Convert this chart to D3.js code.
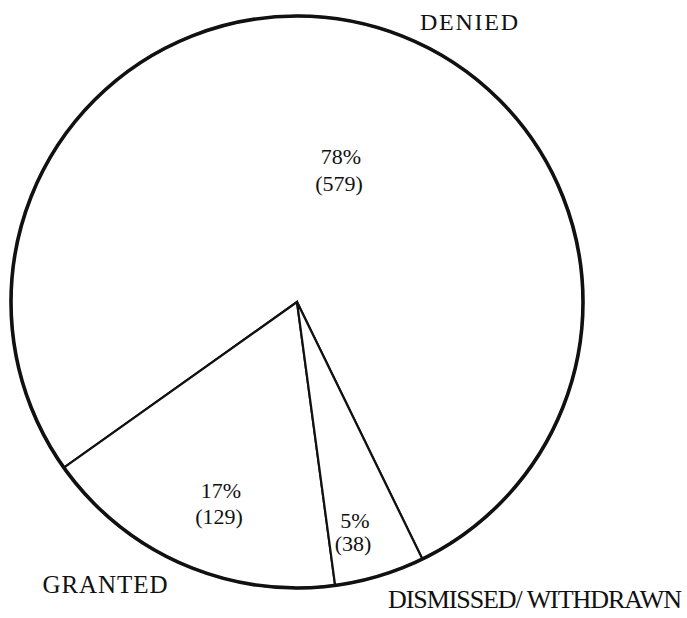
<!DOCTYPE html>
<html>
<head>
<meta charset="utf-8">
<script src="https://cdn.jsdelivr.net/npm/d3@7"></script>
<style>
  body { margin: 0; background: #fff; }
  text { font-family: "Liberation Serif", "DejaVu Serif", serif; fill: #111; }
</style>
</head>
<body>
<div id="chart"></div>
<script>
// data
var categories = ["DENIED", "GRANTED", "DISMISSED/ WITHDRAWN"];
var counts = [579, 129, 38];
var percents = ["78%", "17%", "5%"];

var width = 687, height = 618;
var cx = 297, cy = 302, radius = 286;

// label placement (offsets from the pie centre), layout only
var valueOffsets = [[44, -138], [-76, 196], [58, 226]];
var lineGap = [27, 26, 23];
var nameSpots = [
    {x: 469, y: 30, len: 98, size: 24},
    {x: 105, y: 593, len: 125, size: 25},
    {x: 535, y: 608, len: 294, size: 26}
];

var svg = d3.select("#chart").append("svg")
    .attr("width", width)
    .attr("height", height);

var g = svg.append("g")
    .attr("transform", "translate(" + cx + "," + cy + ")");

var rows = categories.map(function(c, i) {
    return {name: c, count: counts[i], pct: percents[i]};
});

// slices go counter-clockwise, denied first, so granted/dismissed sit at the bottom
var start = (360 + 154) * Math.PI / 180;
var pie = d3.pie()
    .sort(null)
    .value(function(d) { return d.count; })
    .startAngle(start)
    .endAngle(start - 2 * Math.PI);

var arc = d3.arc().innerRadius(0).outerRadius(radius);

g.selectAll(".slice")
    .data(pie(rows))
    .enter().append("path")
    .attr("class", "slice")
    .attr("d", arc)
    .attr("fill", "#fff")
    .attr("stroke", "#111")
    .attr("stroke-width", 2.2)
    .attr("stroke-linejoin", "miter");

// heavier outer rim
g.append("circle")
    .attr("r", radius)
    .attr("fill", "none")
    .attr("stroke", "#111")
    .attr("stroke-width", 3.6);

// percent + count labels
var vals = g.selectAll(".val")
    .data(rows)
    .enter().append("text")
    .attr("class", "val")
    .attr("text-anchor", "middle")
    .style("font-size", "22px");

vals.append("tspan")
    .attr("x", function(d, i) { return valueOffsets[i][0]; })
    .attr("y", function(d, i) { return valueOffsets[i][1]; })
    .text(function(d) { return d.pct; });

vals.append("tspan")
    .attr("x", function(d, i) { return valueOffsets[i][0] - 2; })
    .attr("dy", function(d, i) { return lineGap[i]; })
    .text(function(d) { return "(" + d.count + ")"; });

// category names
svg.selectAll(".name")
    .data(rows)
    .enter().append("text")
    .attr("class", "name")
    .attr("text-anchor", "middle")
    .attr("x", function(d, i) { return nameSpots[i].x; })
    .attr("y", function(d, i) { return nameSpots[i].y; })
    .attr("textLength", function(d, i) { return nameSpots[i].len; })
    .attr("lengthAdjust", "spacing")
    .style("font-size", function(d, i) { return nameSpots[i].size + "px"; })
    .text(function(d) { return d.name; });
</script>
</body>
</html>
